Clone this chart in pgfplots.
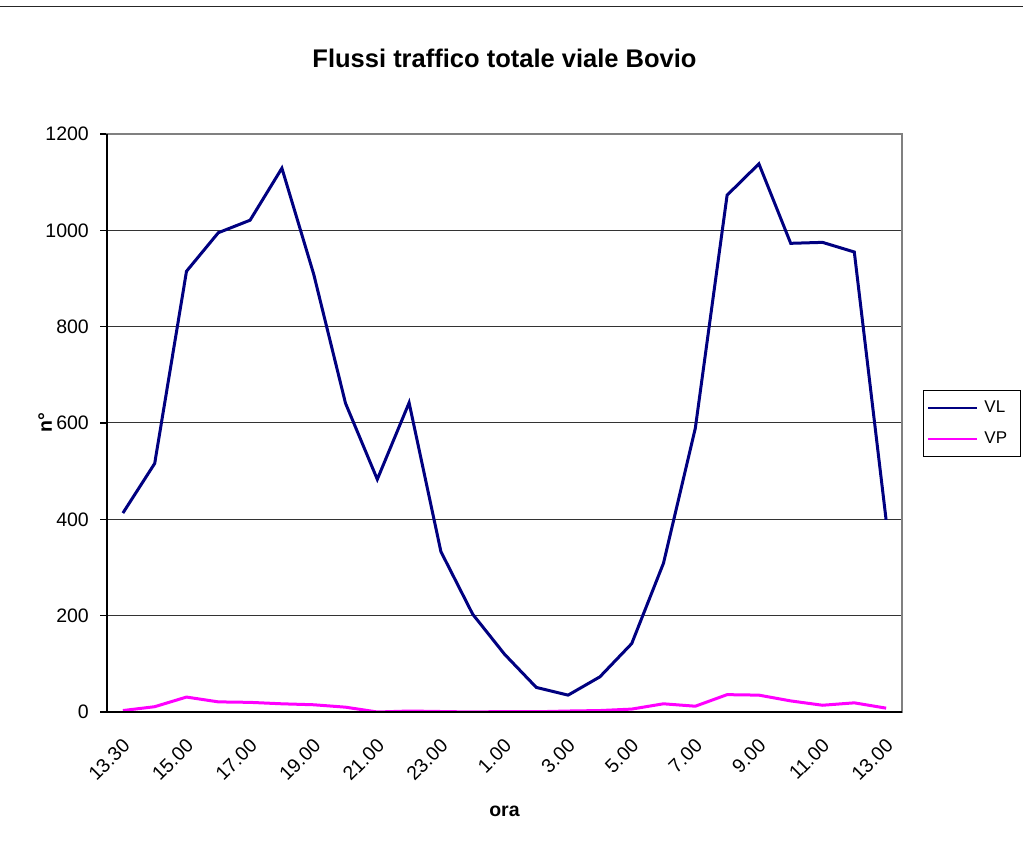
\documentclass[border=0pt]{standalone}
\usepackage{pgfplots}
\pgfplotsset{compat=1.18}
\usepackage{fontspec}
\setmainfont{Liberation Sans}
\definecolor{vl}{HTML}{000080}
\definecolor{vp}{HTML}{FF00FF}
\pgfplotstableread{
i vl vp
0 413 3
1 516 11
2 915 31
3 995 21
4 1021 20
5 1129 17
6 909 15
7 641 10
8 483 0
9 642 2
10 333 1
11 203 0
12 120 1
13 51 0.5
14 35 2
15 73 3
16 142 6
17 309 17
18 589 12
19 1073 36
20 1138 35
21 973 23
22 975 14
23 955 19
24 399 8
}\datatable
\begin{document}
\begin{tikzpicture}[x=1pt,y=1pt]
\useasboundingbox (0,0) rectangle (1023,858);
\draw[black!85, line width=1.6pt] (0,851.5) -- (1023,851.5);
\node[font=\fontsize{25.5}{30}\selectfont\bfseries, anchor=base, inner sep=0pt] at (504.5,790.7) {Flussi traffico totale viale Bovio};
\node[font=\fontsize{19.5}{23}\selectfont\bfseries, anchor=base, inner sep=0pt] at (504.5,41) {ora};
\node[font=\fontsize{19.5}{23}\selectfont\bfseries, rotate=90, inner sep=0pt] at (45,435) {n°};
\begin{axis}[
  at={(107pt,146pt)}, anchor=south west, scale only axis,
  width=795pt, height=578pt,
  xmin=-0.5, xmax=24.5, ymin=0, ymax=1200,
  ytick={0,200,...,1200},
  xtick=\empty,
  minor xtick={-0.5,0.5,...,24.5},
  extra x ticks={0,2,...,24},
  extra x tick labels={13.30,15.00,17.00,19.00,21.00,23.00,1.00,3.00,5.00,7.00,9.00,11.00,13.00},
  extra x tick style={major tick length=0pt, grid=none},
  tick pos=left,
  ymajorgrids, major grid style={black!80, line width=1pt},
  tick align=outside, major tick length=7pt, minor tick length=7pt,
  tick style={black, line width=1.3pt},
  minor tick style={black, line width=1.3pt},
  axis line style={gray, line width=2pt},
  /pgf/number format/1000 sep={},
  /pgf/number format/assume math mode=true,
  tick label style={font=\fontsize{19.5}{23}\selectfont},
  xticklabel style={rotate=45, anchor=east, inner sep=0pt, xshift=-19pt, yshift=-24pt},
  yticklabel style={inner sep=0pt, xshift=-11pt},
  legend style={at={(1.0264,0.4412)}, anchor=south west, draw=black, line width=1pt,
    font=\fontsize{17}{20}\selectfont, inner xsep=4pt, inner ysep=9pt, row sep=14pt,
    /tikz/every odd column/.append style={column sep=4pt}},
  legend cell align=left,
  legend image code/.code={\draw[#1, line width=2pt] (0pt,0pt) -- (49pt,0pt);},
  after end axis/.code={\draw[black, line width=1.6pt] (rel axis cs:0,1) -- (rel axis cs:0,0) -- (rel axis cs:1,0);},
]
\addplot[vl, line width=3pt] table[x=i, y=vl] {\datatable};
\addlegendentry{VL\kern7pt}
\addplot[vp, line width=3pt] table[x=i, y=vp] {\datatable};
\addlegendentry{VP\kern7pt}
\end{axis}
\end{tikzpicture}
\end{document}
